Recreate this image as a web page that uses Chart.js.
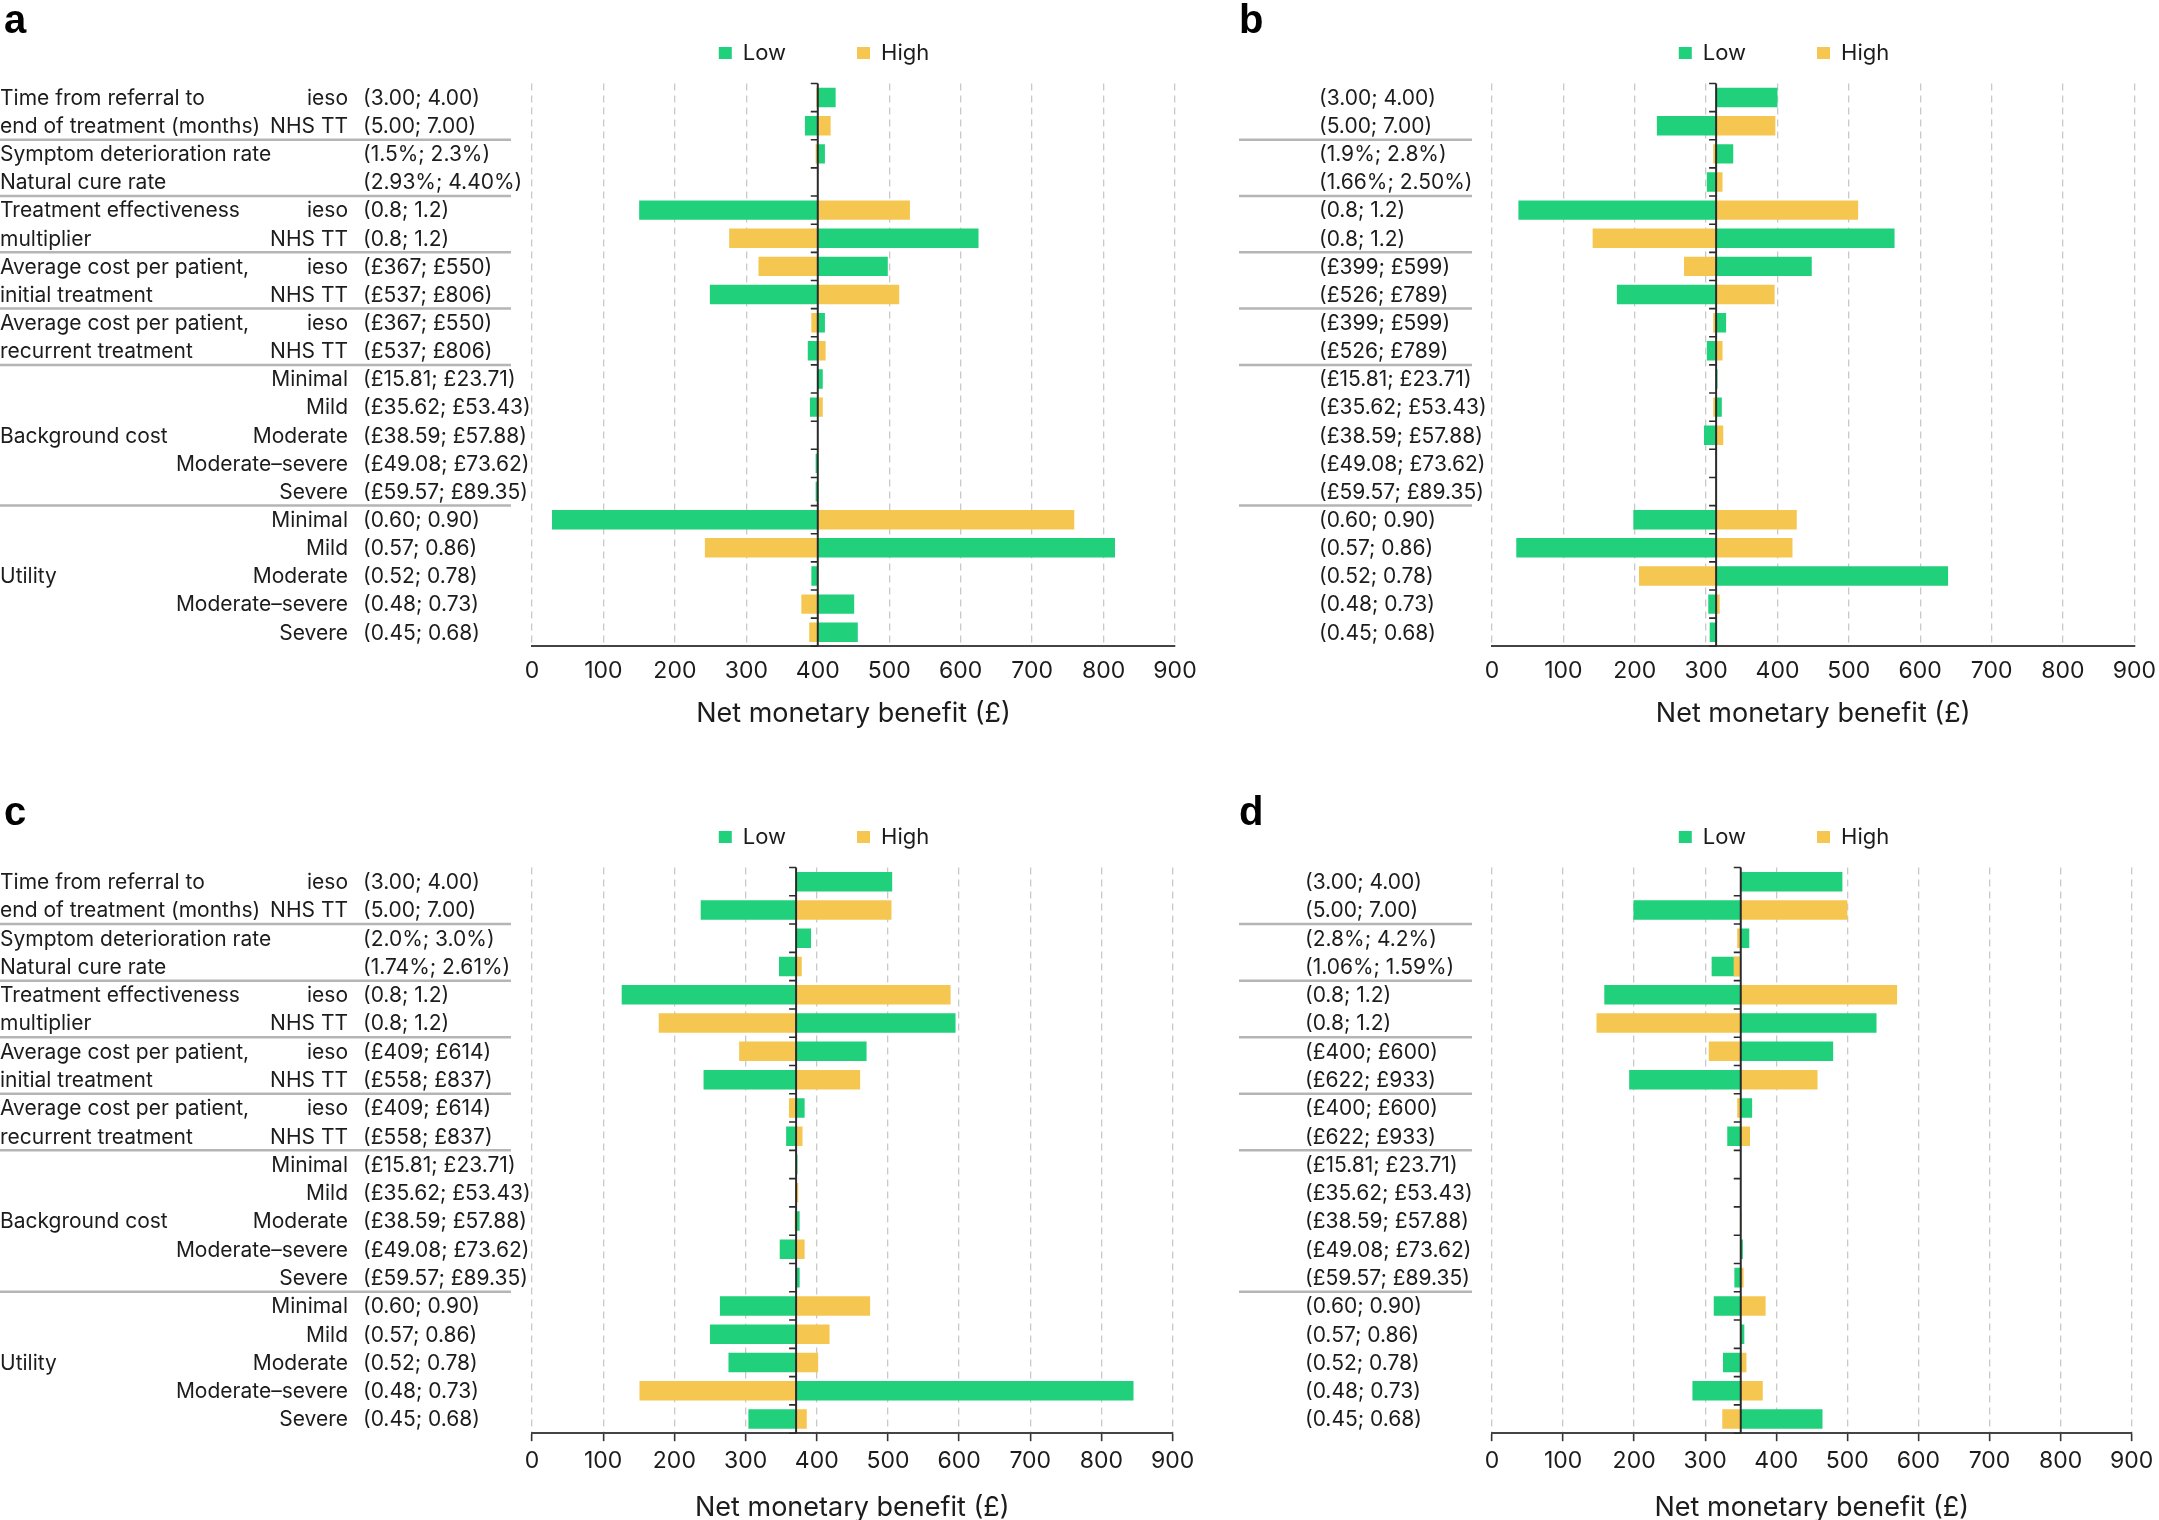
<!DOCTYPE html>
<html>
<head>
<meta charset="utf-8">
<script src="https://cdn.jsdelivr.net/npm/chart.js@4.4.1/dist/chart.umd.min.js"></script>
<style>
  body { margin: 0; background: #fff; }
  #page { position: relative; width: 2159px; height: 1520px; overflow: hidden; background: #fff; }
  canvas { position: absolute; }
</style>
</head>
<body>
<div id="page">
  <canvas id="chartA" width="1200" height="763" style="left:0px;top:-29px"></canvas>
  <canvas id="chartB" width="1199" height="763" style="left:960px;top:-29px"></canvas>
  <canvas id="chartC" width="1200" height="773" style="left:0px;top:755px"></canvas>
  <canvas id="chartD" width="1199" height="773" style="left:960px;top:755px"></canvas>
</div>
<script>
// rows, top to bottom
const rowKeys = ['time_ieso', 'time_nhs', 'deterioration', 'cure', 'eff_ieso', 'eff_nhs',
  'init_ieso', 'init_nhs', 'rec_ieso', 'rec_nhs', 'bg_min', 'bg_mild', 'bg_mod', 'bg_modsev', 'bg_sev',
  'ut_min', 'ut_mild', 'ut_mod', 'ut_modsev', 'ut_sev']

const groupLabels = ['Time from referral to', 'end of treatment (months)', 'Symptom deterioration rate',
  'Natural cure rate', 'Treatment effectiveness', 'multiplier', 'Average cost per patient,',
  'initial treatment', 'Average cost per patient,', 'recurrent treatment', '', '', 'Background cost',
  '', '', '', '', 'Utility', '', '']

const subLabels = ['ieso', 'NHS TT', '', '', 'ieso', 'NHS TT', 'ieso', 'NHS TT', 'ieso', 'NHS TT',
  'Minimal', 'Mild', 'Moderate', 'Moderate–severe', 'Severe',
  'Minimal', 'Mild', 'Moderate', 'Moderate–severe', 'Severe']

// a separator line is drawn above these rows
const groupBreaks = [2, 4, 6, 8, 10, 15]

const bgRanges = ['(£15.81; £23.71)', '(£35.62; £53.43)', '(£38.59; £57.88)', '(£49.08; £73.62)', '(£59.57; £89.35)']
const utilRanges = ['(0.60; 0.90)', '(0.57; 0.86)', '(0.52; 0.78)', '(0.48; 0.73)', '(0.45; 0.68)']

const rangesA = ['(3.00; 4.00)', '(5.00; 7.00)', '(1.5%; 2.3%)', '(2.93%; 4.40%)', '(0.8; 1.2)', '(0.8; 1.2)',
  '(£367; £550)', '(£537; £806)', '(£367; £550)', '(£537; £806)', ...bgRanges, ...utilRanges]
const rangesB = ['(3.00; 4.00)', '(5.00; 7.00)', '(1.9%; 2.8%)', '(1.66%; 2.50%)', '(0.8; 1.2)', '(0.8; 1.2)',
  '(£399; £599)', '(£526; £789)', '(£399; £599)', '(£526; £789)', ...bgRanges, ...utilRanges]
const rangesC = ['(3.00; 4.00)', '(5.00; 7.00)', '(2.0%; 3.0%)', '(1.74%; 2.61%)', '(0.8; 1.2)', '(0.8; 1.2)',
  '(£409; £614)', '(£558; £837)', '(£409; £614)', '(£558; £837)', ...bgRanges, ...utilRanges]
const rangesD = ['(3.00; 4.00)', '(5.00; 7.00)', '(2.8%; 4.2%)', '(1.06%; 1.59%)', '(0.8; 1.2)', '(0.8; 1.2)',
  '(£400; £600)', '(£622; £933)', '(£400; £600)', '(£622; £933)', ...bgRanges, ...utilRanges]

// net monetary benefit (£) at the low / high end of each range; bars start at the base case
const baseA = 400
const lowA = [425, 382, 410, 400, 150, 625, 498, 249, 410, 386, 407, 389, 400, 397, 397, 28, 816, 391, 451, 456]
const highA = [398, 418, 397, 400, 529, 276, 317, 514, 391, 411, 400, 407, 400, 400, 400, 759, 242, 400, 377, 388]

const baseB = 314
const lowB = [400, 231, 338, 301, 37, 564, 448, 175, 328, 301, 316, 322, 297, 314, 314, 198, 34, 639, 303, 305]
const highB = [314, 397, 310, 323, 513, 141, 269, 396, 310, 323, 314, 310, 324, 314, 314, 427, 421, 206, 319, 314]

const baseC = 371
const lowC = [506, 237, 392, 347, 126, 595, 470, 241, 383, 357, 373, 371, 376, 348, 376, 264, 250, 276, 845, 304]
const highC = [371, 505, 371, 379, 588, 178, 291, 461, 361, 380, 371, 374, 369, 383, 371, 475, 418, 402, 151, 386]

const baseD = 350
const lowD = [493, 199, 362, 309, 158, 541, 480, 193, 366, 331, 350, 350, 350, 353, 341, 312, 355, 325, 282, 465]
const highD = [350, 500, 345, 340, 570, 147, 305, 458, 345, 363, 350, 350, 351, 350, 354, 385, 350, 358, 381, 324]

const xTicks = [0, 100, 200, 300, 400, 500, 600, 700, 800, 900]

const GREEN = '#21d07b'
const YELLOW = '#f5c751'
const TEXT = '#1c1c1c'
const FONT = 'Inter'

// row labels, separators, panel letter and the base-case line
function makeDecor(p){
    return {
        id: 'tornadoDecor',
        afterDatasetsDraw(chart){
            const {ctx, chartArea, scales: {x, y}} = chart
            ctx.save()
            // base case line with small ticks at the row edges
            const bx = x.getPixelForValue(p.base)
            ctx.strokeStyle = '#2b2b2b'
            ctx.lineWidth = 2
            ctx.beginPath()
            ctx.moveTo(bx, chartArea.top)
            ctx.lineTo(bx, chartArea.bottom)
            ctx.stroke()
            ctx.lineWidth = 1.6
            ctx.beginPath()
            for(let i = 0; i <= rowKeys.length; i++){
                const yy = y.getPixelForValue(i - 0.5)
                ctx.moveTo(bx - 7, yy)
                ctx.lineTo(bx, yy)
            }
            ctx.stroke()

            // group separators
            ctx.strokeStyle = '#b5b5b5'
            ctx.lineWidth = 2.5
            ctx.beginPath()
            groupBreaks.forEach(i => {
                const yy = y.getPixelForValue(i - 0.5)
                ctx.moveTo(p.sepX0, yy)
                ctx.lineTo(p.sepX1, yy)
            })
            ctx.stroke()

            // text columns
            ctx.fillStyle = TEXT
            ctx.font = `21px ${FONT}`
            ctx.textBaseline = 'middle'
            rowKeys.forEach((key, i) => {
                const yy = y.getPixelForValue(i) + 1
                if(p.showNames){
                    ctx.textAlign = 'left'
                    ctx.fillText(groupLabels[i], 0, yy)
                    ctx.textAlign = 'right'
                    ctx.fillText(subLabels[i], 348, yy)
                }
                ctx.textAlign = 'left'
                ctx.fillText(p.ranges[i], p.rangeX, yy)
            })

            // panel letter
            ctx.font = 'bold 40px "Liberation Sans"'
            ctx.textBaseline = 'alphabetic'
            ctx.fillStyle = '#000'
            ctx.fillText(p.letter, p.letterX, p.letterY)
            ctx.restore()
        }
    }
}

function drawPanel(id, p){
    const ctx = document.getElementById(id)
    new Chart(ctx, {
        type: 'bar',
        data: {
            labels: rowKeys,
            datasets: [{
                label: 'Low',
                data: p.low.map(v => [p.base, v]),
                backgroundColor: GREEN,
                order: 1
            }, {
                label: 'High',
                data: p.high.map(v => [p.base, v]),
                backgroundColor: YELLOW,
                order: 0
            }]
        },
        options: {
            indexAxis: 'y',
            responsive: false,
            animation: false,
            events: [],
            datasets: {
                bar: {
                    grouped: false,
                    barPercentage: 0.69,
                    categoryPercentage: 1,
                    borderWidth: 0
                }
            },
            layout: {
                padding: {left: 473, right: p.padRight, top: 0, bottom: 0}
            },
            scales: {
                x: {
                    type: 'linear',
                    min: 0,
                    max: 900,
                    afterBuildTicks: scale => { scale.ticks = xTicks.map(v => ({value: v})) },
                    ticks: {
                        padding: p.tickPad,
                        color: TEXT,
                        font: {family: FONT, size: 23}
                    },
                    grid: {
                        color: '#c9c9c9',
                        lineWidth: 1.3,
                        tickLength: 8,
                        tickColor: p.tickColor,
                        tickWidth: 1.6
                    },
                    border: {
                        display: true,
                        color: '#444',
                        width: 2,
                        dash: [7, 5]
                    },
                    title: {
                        display: true,
                        text: 'Net monetary benefit (£)',
                        color: TEXT,
                        font: {family: FONT, size: 27},
                        padding: {top: p.titlePad, bottom: 4}
                    }
                },
                y: {
                    type: 'category',
                    offset: true,
                    ticks: {display: false},
                    grid: {display: false},
                    border: {display: false},
                    afterFit: scale => { scale.width = 59 }
                }
            },
            plugins: {
                legend: {
                    position: 'top',
                    labels: {
                        boxWidth: 13,
                        boxHeight: 12,
                        padding: 71,
                        color: TEXT,
                        font: {family: FONT, size: 22},
                        sort: (a, b) => a.datasetIndex - b.datasetIndex
                    }
                },
                // empty title only used as a gap between legend and bars
                title: {
                    display: true,
                    text: ' ',
                    weight: 0,
                    font: {size: 1},
                    padding: {top: 0, bottom: 8.3}
                },
                tooltip: {enabled: false}
            }
        },
        plugins: [makeDecor(p)]
    })
}

drawPanel('chartA', {base: baseA, low: lowA, high: highA, ranges: rangesA, showNames: true,
    rangeX: 363, sepX0: 0, sepX1: 511, letter: 'a', letterX: 4, letterY: 62,
    tickColor: 'rgba(0,0,0,0)', tickPad: 3, titlePad: 9.7, padRight: 25})
drawPanel('chartB', {base: baseB, low: lowB, high: highB, ranges: rangesB, showNames: false,
    rangeX: 359, sepX0: 279, sepX1: 512, letter: 'b', letterX: 279, letterY: 62,
    tickColor: 'rgba(0,0,0,0)', tickPad: 3, titlePad: 9.7, padRight: 24})
drawPanel('chartC', {base: baseC, low: lowC, high: highC, ranges: rangesC, showNames: true,
    rangeX: 363, sepX0: 0, sepX1: 511, letter: 'c', letterX: 4, letterY: 70,
    tickColor: '#333', tickPad: 5.7, titlePad: 11.4, padRight: 25})
drawPanel('chartD', {base: baseD, low: lowD, high: highD, ranges: rangesD, showNames: false,
    rangeX: 345, sepX0: 279, sepX1: 512, letter: 'd', letterX: 279, letterY: 70,
    tickColor: '#333', tickPad: 5.7, titlePad: 11.4, padRight: 24})
</script>
</body>
</html>
